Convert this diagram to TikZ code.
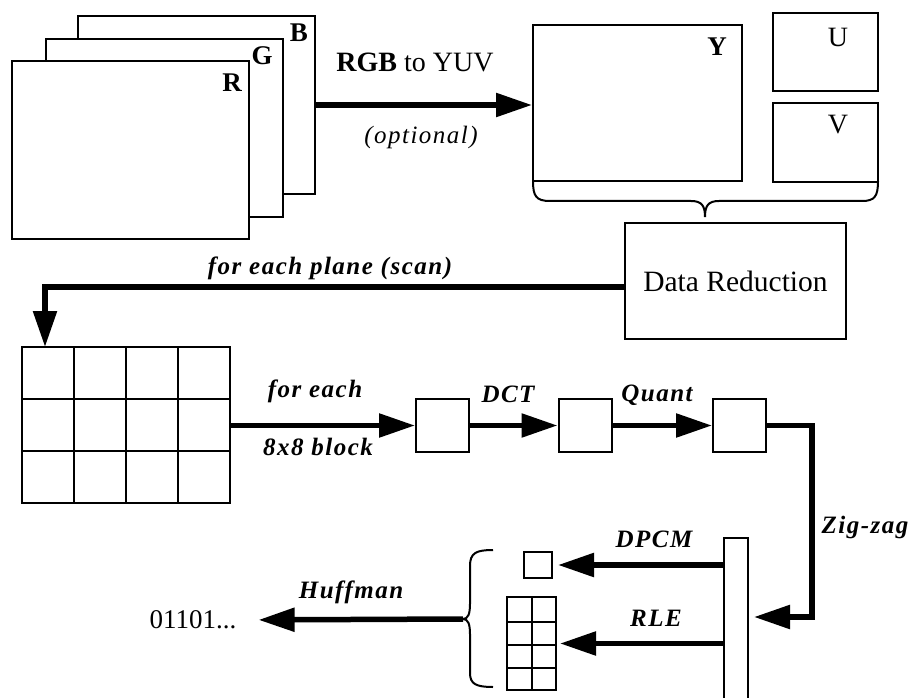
\documentclass[tikz,border=0pt]{standalone}
\usepackage{fontspec}
\setmainfont{Liberation Serif}
\newfontfamily\lblfont[LetterSpace=6]{Liberation Serif}
\usetikzlibrary{arrows.meta}
\begin{document}
\begin{tikzpicture}[x=1pt,y=-1pt,
  box/.style={draw,line width=2pt,fill=white,inner sep=0pt},
  thin/.style={line width=2pt},
  arr/.style={line width=5.5pt,-{Triangle[length=36pt,width=23pt]}},
  lbl/.style={font=\lblfont\fontsize{25}{27}\selectfont\bfseries\itshape,inner sep=0pt},
  big/.style={font=\fontsize{28}{30}\selectfont,inner sep=0pt},
  bigb/.style={font=\fontsize{27}{29}\selectfont\bfseries,inner sep=0pt}]
\useasboundingbox (0,0) rectangle (919,698);
\clip (0,0) rectangle (919,698);
% RGB planes
\node[box,minimum width=237pt,minimum height=178pt] (B) at (196.5,105) {};
\node[box,minimum width=237pt,minimum height=178pt] (G) at (164.5,128) {};
\node[box,minimum width=237pt,minimum height=178pt] (R) at (130,150) {};
\node[bigb] (Bl) at (299,33) {B};
\node[bigb] (Gl) at (262,56) {G};
\node[bigb] (Rl) at (232,83) {R};
% YUV planes
\node[box,minimum width=209pt,minimum height=156pt] (Y) at (637.5,103) {};
\node[box,minimum width=105pt,minimum height=78pt] (U) at (825.5,52) {};
\node[box,minimum width=105pt,minimum height=79pt] (V) at (825.5,142.5) {};
\node[bigb] (Yl) at (717,47) {Y};
\node[big] (Ul) at (838,37) {U};
\node[big] (Vl) at (838,125) {V};
% RGB to YUV arrow
\draw[arr] (B.east) -- (Y.west |- B.east);
\node[big] (t1) at (415,62) {\textbf{RGB} to YUV};
\node[lbl,font=\lblfont\fontsize{25}{27}\selectfont\itshape] (t2) at (421,137) {(optional)};
% brace under YUV
\coordinate (ytip) at (705,217);
\draw[thin] (533,181) .. controls (533,196) and (536,201) .. (550,201) -- (691,201)
  .. controls (702,201) and (705,206) .. (ytip)
  .. controls (705,206) and (708,201) .. (719,201) -- (862,201)
  .. controls (875,201) and (878,196) .. (878,181);
% Data reduction
\node[box,minimum width=221pt,minimum height=116pt,font=\fontsize{29.5}{31}\selectfont] (DR) at (735.5,281) {Data Reduction};
% grid of blocks
\node[box,minimum width=208pt,minimum height=156pt] (grid) at (126,425) {};
\foreach \xx in {74,126,178} \draw[thin] (\xx,347) -- (\xx,503);
\foreach \yy in {399,451} \draw[thin] (22,\yy) -- (230,\yy);
\coordinate (scanrow) at (0,287);
\coordinate (scanend) at (45,347);
\draw[arr] (DR.west |- scanrow) -| (scanend);
\node[lbl] (t3) at (330,268) {for each plane (scan)};
% blocks
\node[box,minimum width=53pt,minimum height=53pt] (b1) at (442.5,425.5) {};
\node[box,minimum width=53pt,minimum height=53pt] (b2) at (585,425.5) {};
\node[box,minimum width=53pt,minimum height=53pt] (b3) at (739.5,425.5) {};
\draw[arr] (grid.east |- b1.west) -- (b1.west);
\node[lbl] (t4) at (315,391) {for each};
\node[lbl] (t5) at (318,447) {8x8 block};
\draw[arr] (b1.east) -- (b2.west);
\node[lbl] (t6) at (508,394) {DCT};
\draw[arr] (b2.east) -- (b3.west);
\node[lbl] (t7) at (657,395) {Quant};
% zig-zag
\node[box,minimum width=24pt,minimum height=170pt] (bar) at (736,623) {};
\coordinate (zzc) at (812,617);
\coordinate (zzend) at (754,617);
\draw[arr] (b3.east) -| (zzc) -- (zzend);
\node[lbl] (t8) at (865,527) {Zig-zag};
% DPCM / RLE
\node[box,minimum width=28pt,minimum height=26pt] (dc) at (538,565) {};
\node[box,minimum width=49pt,minimum height=93pt] (ac) at (531.5,643.5) {};
\draw[thin] (532,597) -- (532,690);
\foreach \yy in {622,645,668} \draw[thin] (507,\yy) -- (556,\yy);
\draw[arr,shorten >=5pt] (bar.west |- dc.east) -- (dc.east);
\node[lbl] (t9) at (654,539) {DPCM};
\draw[arr,shorten >=3pt] (bar.west |- ac.east) -- (ac.east);
\node[lbl] (t10) at (656,618) {RLE};
% left brace
\coordinate (htip) at (463,619);
\draw[thin] (493,550) .. controls (476,550) and (470,553) .. (470,566) -- (470,604)
  .. controls (470,614) and (468,619) .. (htip)
  .. controls (468,619) and (470,624) .. (470,634) -- (470,673)
  .. controls (470,684) and (476,687) .. (493,687);
% Huffman
\node[big,font=\fontsize{27}{29}\selectfont] (bits) at (193,620) {01101...};
\draw[arr,shorten >=22pt] (htip) -- (bits.east);
\node[lbl] (t11) at (351,592) {Huffman};
\end{tikzpicture}
\end{document}
